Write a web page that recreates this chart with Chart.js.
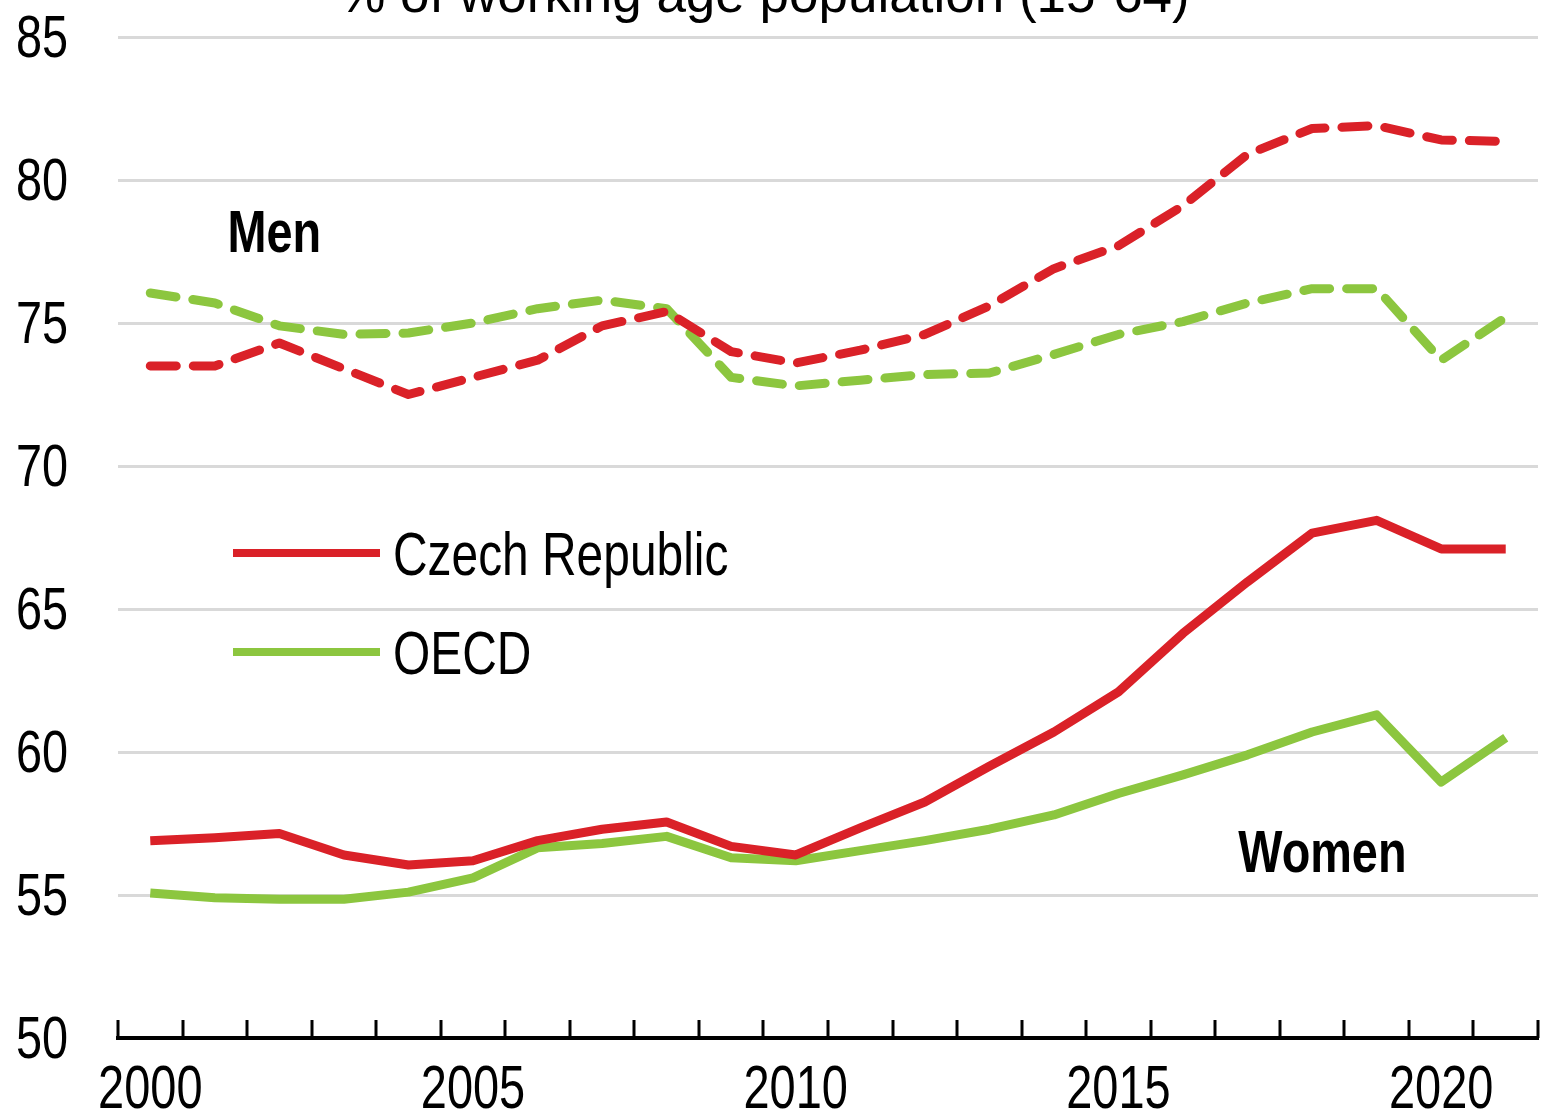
<!DOCTYPE html>
<html>
<head>
<meta charset="utf-8">
<script src="https://cdn.jsdelivr.net/npm/chart.js@4/dist/chart.umd.min.js"></script>
<style>
  html, body { margin: 0; padding: 0; background: #fff; }
  #wrap { width: 1543px; height: 1111px; }
</style>
</head>
<body>
<div id="wrap"><canvas id="c" width="1543" height="1111"></canvas></div>
<script>
const years = ['2000','2001','2002','2003','2004','2005','2006','2007','2008','2009','2010',
               '2011','2012','2013','2014','2015','2016','2017','2018','2019','2020','2021'];
const czechMen   = [73.5, 73.5, 74.3, 73.4, 72.5, 73.1, 73.7, 74.9, 75.4, 74.0, 73.6,
                    74.05, 74.6, 75.6, 76.9, 77.7, 79.1, 80.9, 81.8, 81.9, 81.4, 81.35];
const oecdMen    = [76.05, 75.7, 74.9, 74.6, 74.65, 75.0, 75.5, 75.8, 75.5, 73.1, 72.8,
                    73.0, 73.2, 73.25, 73.9, 74.6, 75.05, 75.7, 76.2, 76.2, 73.7, 75.2];
const czechWomen = [56.9, 57.0, 57.15, 56.4, 56.05, 56.2, 56.9, 57.3, 57.55, 56.7, 56.4,
                    57.35, 58.25, 59.5, 60.7, 62.1, 64.15, 65.95, 67.65, 68.1, 67.1, 67.1];
const oecdWomen  = [55.07, 54.9, 54.85, 54.85, 55.1, 55.6, 56.65, 56.8, 57.05, 56.3, 56.2,
                    56.55, 56.9, 57.3, 57.8, 58.55, 59.2, 59.9, 60.7, 61.3, 58.95, 60.5];
const yTicks = [50, 55, 60, 65, 70, 75, 80, 85];
const xLabelEvery = 5;
const titleText = '% of working age population (15-64)';
const legendItems = ['Czech Republic', 'OECD'];
const groupLabels = [
  { text: 'Men',   x: 1.92,  y: 77.48 },
  { text: 'Women', x: 18.16, y: 55.8 }
];

const RED = '#da2128';
const GREEN = '#8cc63f';
const FONT = '"Liberation Sans", Arial, sans-serif';

// draw condensed (Arial-Narrow-like) text by horizontal scaling
function narrowText(ctx, text, x, y, size, squeeze, align, bold) {
  ctx.save();
  ctx.font = (bold ? 'bold ' : '') + size + 'px ' + FONT;
  ctx.textAlign = align;
  ctx.textBaseline = 'alphabetic';
  ctx.translate(x, y);
  ctx.scale(squeeze, 1);
  ctx.fillText(text, 0, 0);
  ctx.restore();
}

const axisDecor = {
  id: 'axisDecor',
  afterDraw(chart) {
    const xs = chart.scales.x, ys = chart.scales.y;
    const ctx = chart.ctx;
    const bottom = chart.chartArea.bottom;
    const step = xs.getPixelForValue(1) - xs.getPixelForValue(0);
    ctx.save();
    // upward tick marks at category boundaries
    ctx.strokeStyle = '#000';
    ctx.lineWidth = 3;
    for (let i = 0; i <= years.length; i++) {
      const x = Math.round(xs.getPixelForValue(i) - step / 2);
      ctx.beginPath();
      ctx.moveTo(x, bottom);
      ctx.lineTo(x, bottom - 18);
      ctx.stroke();
    }
    ctx.fillStyle = '#000';
    // x tick labels
    years.forEach((yr, i) => {
      if (Number(yr) % xLabelEvery === 0) {
        narrowText(ctx, yr, xs.getPixelForValue(i), bottom + 70, 61, 0.77, 'center', false);
      }
    });
    // y tick labels
    yTicks.forEach(v => {
      narrowText(ctx, String(v), chart.chartArea.left - 50, ys.getPixelForValue(v) + 19.5, 60, 0.78, 'right', false);
    });
    ctx.restore();
  }
};

const overlay = {
  id: 'overlay',
  afterDraw(chart) {
    const ctx = chart.ctx;
    const xs = chart.scales.x, ys = chart.scales.y;
    ctx.save();
    ctx.fillStyle = '#000';
    // title (partially clipped at the top, as in the original)
    ctx.font = '53px ' + FONT;
    ctx.textAlign = 'center';
    ctx.textBaseline = 'alphabetic';
    ctx.fillText(titleText, 764, 12);
    // legend
    const colors = [RED, GREEN];
    const ly = [553, 652];
    ctx.lineWidth = 8;
    legendItems.forEach((t, i) => {
      ctx.strokeStyle = colors[i];
      ctx.beginPath();
      ctx.moveTo(233, ly[i]);
      ctx.lineTo(380, ly[i]);
      ctx.stroke();
      narrowText(ctx, t, 393, ly[i] + 22, 61, 0.785, 'left', false);
    });
    // group labels
    groupLabels.forEach(g => {
      narrowText(ctx, g.text, xs.getPixelForValue(g.x), ys.getPixelForValue(g.y), 60, 0.78, 'center', true);
    });
    ctx.restore();
  }
};

new Chart(document.getElementById('c'), {
  type: 'line',
  data: {
    labels: years,
    datasets: [
      { label: 'Czech Republic (men)', data: czechMen, borderColor: RED, borderWidth: 9,
        borderDash: [26, 17], borderCapStyle: 'round' },
      { label: 'OECD (men)', data: oecdMen, borderColor: GREEN, borderWidth: 9,
        borderDash: [26, 17], borderCapStyle: 'round' },
      { label: 'Czech Republic (women)', data: czechWomen, borderColor: RED, borderWidth: 9 },
      { label: 'OECD (women)', data: oecdWomen, borderColor: GREEN, borderWidth: 9 }
    ]
  },
  options: {
    responsive: false,
    animation: false,
    devicePixelRatio: 1,
    elements: { point: { radius: 0 }, line: { tension: 0, fill: false, borderJoinStyle: 'round' } },
    layout: { padding: { top: 37, right: 5, left: 0, bottom: 0 } },
    plugins: { legend: { display: false }, tooltip: { enabled: false }, title: { display: false } },
    scales: {
      x: {
        type: 'category',
        offset: true,
        afterFit(s) { s.height = 73; },
        grid: { display: true, drawOnChartArea: false, drawTicks: false },
        border: { display: true, color: '#000', width: 4 },
        ticks: { display: false, autoSkip: false }
      },
      y: {
        min: yTicks[0], max: yTicks[yTicks.length - 1],
        afterFit(s) { s.width = 118; },
        afterBuildTicks(s) { s.ticks = yTicks.map(v => ({ value: v })); },
        grid: {
          drawTicks: false, lineWidth: 3,
          color: c => (c.tick && c.tick.value === yTicks[0] ? 'rgba(0,0,0,0)' : '#d9d9d9')
        },
        border: { display: false },
        ticks: { display: false }
      }
    }
  },
  plugins: [axisDecor, overlay]
});
</script>
</body>
</html>
